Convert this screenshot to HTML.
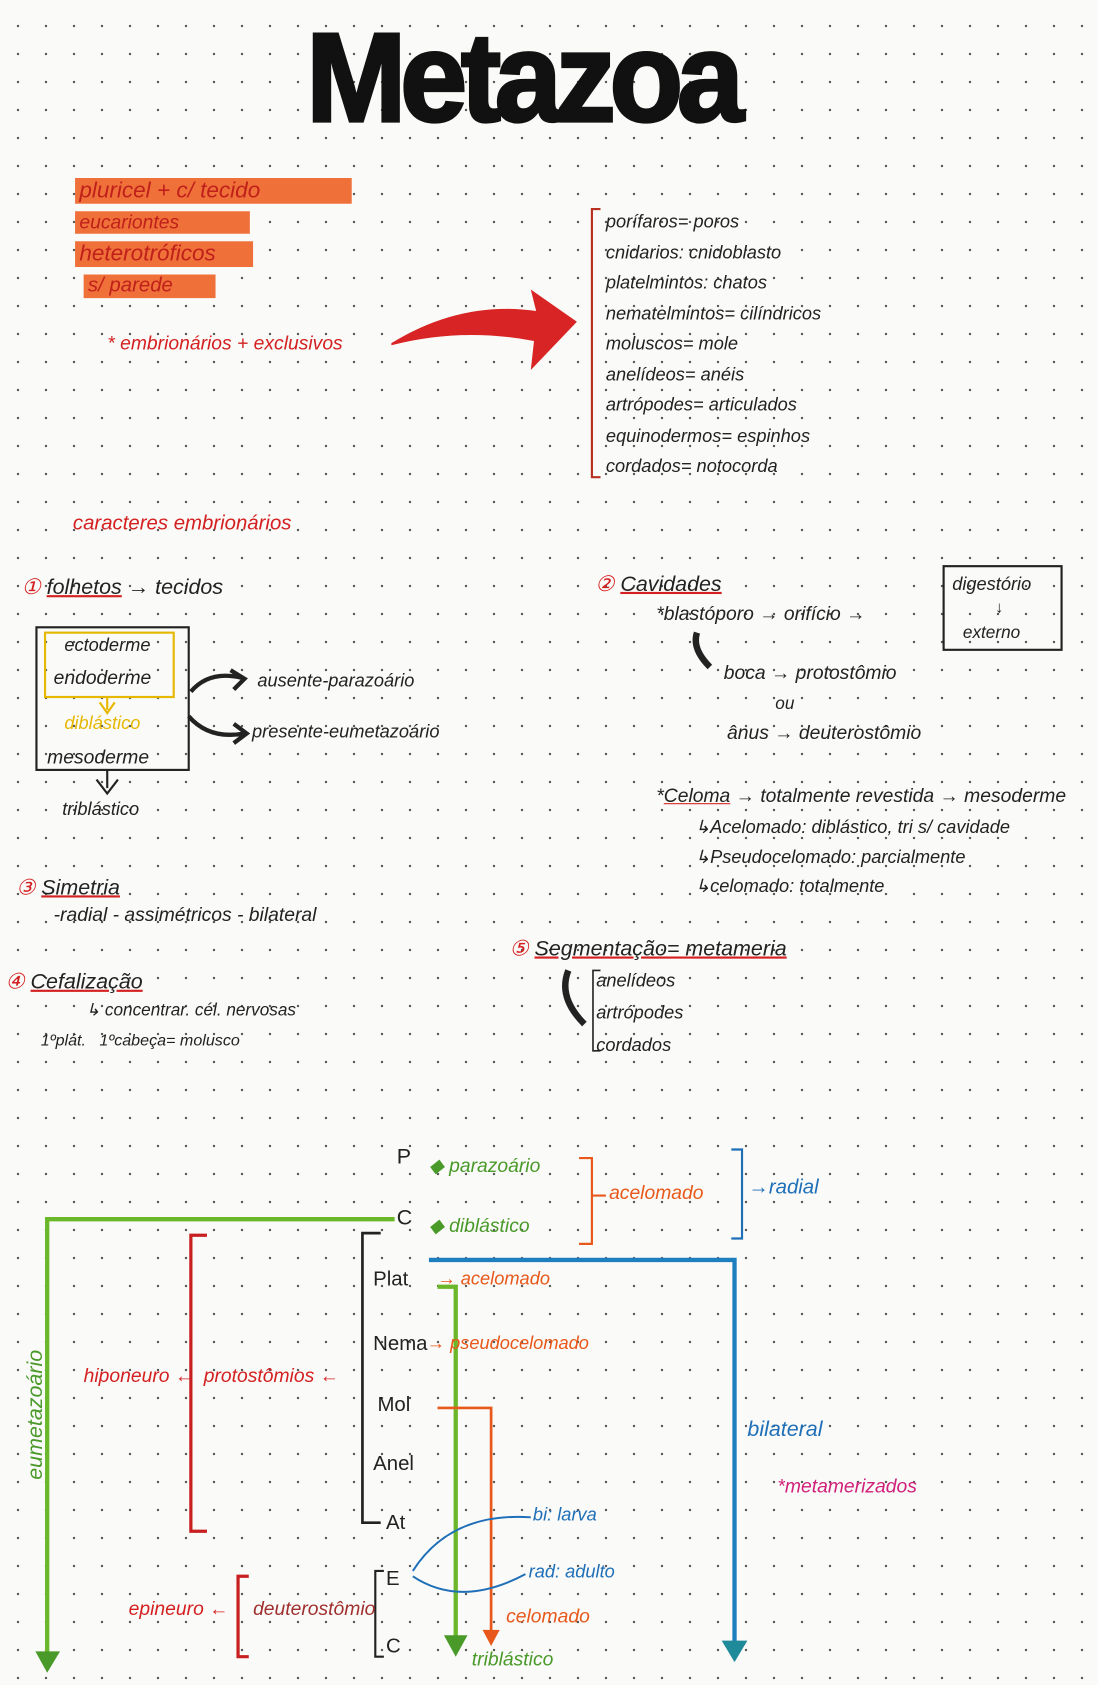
<!DOCTYPE html>
<html><head><meta charset="utf-8"><style>
html,body{margin:0;padding:0}
body{width:1098px;height:1684px;overflow:hidden;background-color:#fafaf8;
background-image:radial-gradient(circle,#555 1px,transparent 1.4px);background-size:28px 28px;background-position:4px 12px;
font-family:"Liberation Sans",sans-serif}
#w{position:absolute;left:0;top:0;width:1024px;height:1571px;transform:scale(1.0723);transform-origin:0 0}
.t{position:absolute;white-space:nowrap;font-size:19px;font-style:italic}
.r{color:#d42020}.k{color:#222}.g{color:#4a9a2a}.b{color:#1e6fb8}.o{color:#e8581a}.m{color:#d0207a}.y{color:#e6b800}
.hl{background:#f0703a;color:#c0201a;padding:0 4px;display:inline-block}
svg{position:absolute;left:0;top:0}
</style></head><body><div id="w">
<div class="t" style="left:275px;top:5px;font-size:118px;font-weight:bold;font-style:normal;letter-spacing:-6px;color:#111;transform:scaleX(0.95);-webkit-text-stroke:3px #111">Metazoa</div>

<div class="t hl" style="left:70px;top:166px;font-size:21px;width:250px">pluricel + c/ tecido</div>
<div class="t hl" style="left:70px;top:197px;font-size:18px;width:155px">eucariontes</div>
<div class="t hl" style="left:70px;top:225px;font-size:21px;width:158px">heterotróficos</div>
<div class="t hl" style="left:78px;top:256px;font-size:19px;width:115px">s/ parede</div>
<div class="t r" style="left:100px;top:310px;font-size:18px">* embrionários + exclusivos</div>
<svg width="1024" height="1571">
<path d="M365 320 Q430 280 500 290 L495 270 L538 300 L495 345 L498 318 Q430 305 365 322Z" fill="#d82424"/>
<path d="M560 195 L552 195 L552 445 L560 445" stroke="#b83020" stroke-width="2" fill="none"/>
<rect x="34" y="585" width="142" height="133" fill="none" stroke="#222" stroke-width="2"/>
<rect x="42" y="590" width="120" height="60" fill="none" stroke="#e6b800" stroke-width="2"/>
<path d="M100 650 L100 662 M93 655 L100 665 L107 655" stroke="#e6b800" stroke-width="2" fill="none"/>
<path d="M100 718 L100 735 M90 727 L100 740 L110 727" stroke="#222" stroke-width="2" fill="none"/>
<path d="M178 645 Q195 625 225 632 M215 625 L228 633 L218 643" stroke="#222" stroke-width="4" fill="none"/>
<path d="M176 668 Q195 690 228 684 M218 675 L230 684 L218 693" stroke="#222" stroke-width="4" fill="none"/>
<rect x="880" y="528" width="110" height="78" fill="none" stroke="#222" stroke-width="2"/>
<path d="M650 590 Q645 605 662 622" stroke="#222" stroke-width="6" fill="none"/>
<path d="M530 905 Q520 930 545 955" stroke="#222" stroke-width="6" fill="none"/>
<path d="M560 905 L553 905 L553 980 L560 980" stroke="#222" stroke-width="1.5" fill="none"/>
<path d="M540 1080 L552 1080 L552 1160 L540 1160 M552 1115 L565 1115" stroke="#e8581a" stroke-width="2" fill="none"/>
<path d="M682 1072 L692 1072 L692 1155 L682 1155" stroke="#1e6fb8" stroke-width="2" fill="none"/>
<path d="M368 1137 L44 1137 L44 1545" stroke="#6ab82a" stroke-width="4" fill="none"/>
<path d="M33 1540 L44 1560 L56 1540Z" fill="#4a9a2a"/>
<path d="M400 1175 L685 1175 L685 1540" stroke="#1e7fbf" stroke-width="4" fill="none"/>
<path d="M673 1530 L685 1550 L697 1530Z" fill="#1e8a9a"/>
<path d="M408 1200 L425 1200 L425 1530" stroke="#6ab82a" stroke-width="4" fill="none"/>
<path d="M414 1525 L425 1545 L436 1525Z" fill="#4a9a2a"/>
<path d="M408 1313 L458 1313 L458 1525" stroke="#e8581a" stroke-width="2.5" fill="none"/>
<path d="M450 1520 L458 1535 L466 1520Z" fill="#e8581a"/>
<path d="M355 1150 L338 1150 L338 1420 L355 1420" stroke="#222" stroke-width="2.5" fill="none"/>
<path d="M193 1152 L178 1152 L178 1428 L193 1428" stroke="#c82020" stroke-width="3" fill="none"/>
<path d="M232 1470 L222 1470 L222 1545 L232 1545" stroke="#c82020" stroke-width="3" fill="none"/>
<path d="M358 1465 L350 1465 L350 1545 L358 1545" stroke="#222" stroke-width="2" fill="none"/>
<path d="M385 1465 Q420 1410 495 1415 M385 1470 Q430 1500 490 1468" stroke="#1e6fb8" stroke-width="1.8" fill="none"/>
</svg>
<div class="t k" style="left:565px;top:193px;font-size:17px;line-height:28.5px">porífaros= poros<br>cnidarios: cnidoblasto<br>platelmintos: chatos<br>nematelmintos= cilíndricos<br>moluscos= mole<br>anelídeos= anéis<br>artrópodes= articulados<br>equinodermos= espinhos<br>cordados= notocorda</div>

<div class="t r" style="left:68px;top:478px">caracteres embrionários</div>
<div class="t k" style="left:20px;top:535px;font-size:20px"><span class="r">①</span> <u style="text-decoration-color:#d42020">folhetos</u> → tecidos</div>
<div class="t k" style="left:60px;top:592px;font-size:17px">ectoderme</div>
<div class="t k" style="left:50px;top:622px;font-size:18px">endoderme</div>
<div class="t y" style="left:60px;top:665px;font-size:17px">diblástico</div>
<div class="t k" style="left:44px;top:696px;font-size:18px">mesoderme</div>
<div class="t k" style="left:58px;top:745px;font-size:17px">triblástico</div>
<div class="t k" style="left:240px;top:625px;font-size:17px">ausente-parazoário</div>
<div class="t k" style="left:235px;top:673px;font-size:17px">presente-eumetazoário</div>

<div class="t k" style="left:555px;top:532px;font-size:20px"><span class="r">②</span> <u style="text-decoration-color:#d42020">Cavidades</u></div>
<div class="t k" style="left:612px;top:562px;font-size:18px">*blastóporo → orifício →</div>
<div class="t k" style="left:888px;top:535px;font-size:17px">digestório</div>
<div class="t k" style="left:928px;top:558px;font-size:15px">↓</div>
<div class="t k" style="left:898px;top:582px;font-size:16px">externo</div>
<div class="t k" style="left:675px;top:617px;font-size:18px">boca → protostômio</div>
<div class="t k" style="left:723px;top:648px;font-size:16px">ou</div>
<div class="t k" style="left:678px;top:673px;font-size:18px">ânus → deuterostômio</div>
<div class="t k" style="left:612px;top:732px;font-size:18px">*<u style="text-decoration-color:#d42020">Celoma</u> → totalmente revestida → mesoderme</div>
<div class="t k" style="left:648px;top:762px;font-size:17px">↳Acelomado: diblástico, tri s/ cavidade</div>
<div class="t k" style="left:648px;top:790px;font-size:17px">↳Pseudocelomado: parcialmente</div>
<div class="t k" style="left:648px;top:817px;font-size:17px">↳celomado: totalmente</div>

<div class="t k" style="left:15px;top:815px;font-size:20px"><span class="r">③</span> <u style="text-decoration-color:#d42020">Simetria</u></div>
<div class="t k" style="left:50px;top:843px;font-size:18px">-radial - assimétricos - bilateral</div>
<div class="t k" style="left:5px;top:903px;font-size:20px"><span class="r">④</span> <u style="text-decoration-color:#d42020">Cefalização</u></div>
<div class="t k" style="left:80px;top:932px;font-size:16px">↳ concentrar. cél. nervosas</div>
<div class="t k" style="left:38px;top:962px;font-size:15px">1ºplát. &nbsp; 1ºcabeça= molusco</div>
<div class="t k" style="left:475px;top:872px;font-size:20px"><span class="r">⑤</span> <u style="text-decoration-color:#d42020">Segmentação= metameria</u></div>
<div class="t k" style="left:556px;top:900px;font-size:17px;line-height:30px">anelídeos<br>artrópodes<br>cordados</div>

<div class="t k" style="left:370px;top:1068px;font-size:20px;font-style:normal">P</div>
<div class="t g" style="left:400px;top:1077px;font-size:18px">◆ parazoário</div>
<div class="t k" style="left:370px;top:1125px;font-size:20px;font-style:normal">C</div>
<div class="t g" style="left:400px;top:1133px;font-size:18px">◆ diblástico</div>
<div class="t o" style="left:568px;top:1102px;font-size:18px">acelomado</div>
<div class="t b" style="left:698px;top:1097px;font-size:19px">→radial</div>
<div class="t k" style="left:348px;top:1183px;font-size:19px;font-style:normal">Plat</div>
<div class="t o" style="left:408px;top:1183px;font-size:17px">→ acelomado</div>
<div class="t k" style="left:348px;top:1243px;font-size:19px;font-style:normal">Nema</div>
<div class="t o" style="left:398px;top:1243px;font-size:17px">→ pseudocelomado</div>
<div class="t k" style="left:352px;top:1300px;font-size:19px;font-style:normal">Mol</div>
<div class="t k" style="left:348px;top:1355px;font-size:19px;font-style:normal">Anel</div>
<div class="t k" style="left:360px;top:1410px;font-size:19px;font-style:normal">At</div>
<div class="t k" style="left:360px;top:1462px;font-size:19px;font-style:normal">E</div>
<div class="t k" style="left:360px;top:1525px;font-size:19px;font-style:normal">C</div>
<div class="t r" style="left:190px;top:1273px;font-size:18px">protostômios ←</div>
<div class="t r" style="left:78px;top:1273px;font-size:18px">hiponeuro ←</div>
<div class="t r" style="left:236px;top:1490px;font-size:18px;color:#a03030">deuterostômio</div>
<div class="t r" style="left:120px;top:1490px;font-size:18px">epineuro ←</div>
<div class="t b" style="left:697px;top:1322px;font-size:20px">bilateral</div>
<div class="t m" style="left:725px;top:1376px;font-size:18px">*metamerizados</div>
<div class="t b" style="left:497px;top:1403px;font-size:17px">bi: larva</div>
<div class="t b" style="left:493px;top:1456px;font-size:17px">rad: adulto</div>
<div class="t o" style="left:472px;top:1497px;font-size:18px">celomado</div>
<div class="t g" style="left:440px;top:1537px;font-size:18px">triblástico</div>
<div class="t g" style="left:22px;top:1380px;font-size:20px;transform:rotate(-90deg);transform-origin:left top">eumetazoário</div>
</div></body></html>
